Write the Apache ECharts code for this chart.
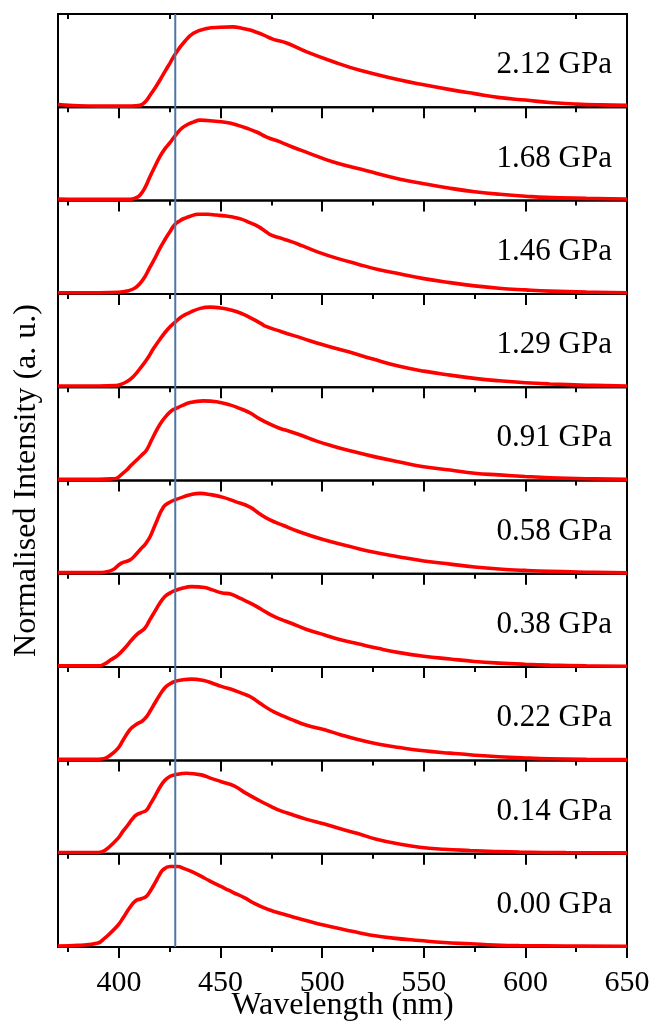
<!DOCTYPE html>
<html>
<head>
<meta charset="utf-8">
<script src="https://cdn.jsdelivr.net/npm/echarts@6/dist/echarts.min.js"></script>
<style>
html,body{margin:0;padding:0;background:#fff;}
#chart{width:654px;height:1021px;}
</style>
</head>
<body>
<div id="chart"></div>
<script>
// ---- data ----
const pressures = ['2.12 GPa','1.68 GPa','1.46 GPa','1.29 GPa','0.91 GPa','0.58 GPa','0.38 GPa','0.22 GPa','0.14 GPa','0.00 GPa'];
const majorTicks = [400,450,500,550,600,650];
const minorTicks = [375,425,475,525,575,625];
const refLine = 427.7;

const p212 = [[370,0.035],[380,0.02],[390,0.015],[400,0.015],[406,0.015],[410.4,0.025],[413,0.07],[415.3,0.15],[418,0.25],[420.2,0.34],[422.5,0.44],[425.1,0.55],[427.9,0.67],[431.7,0.80],[436.6,0.92],[443.2,0.98],[449.7,0.995],[456.3,1.0],[460,0.985],[464.5,0.96],[468,0.93],[471,0.90],[476,0.845],[482.5,0.80],[492.4,0.69],[505.5,0.567],[518.6,0.46],[538.3,0.34],[550,0.28],[563,0.22],[575,0.17],[587.5,0.12],[600,0.09],[612,0.06],[625,0.04],[637,0.03],[650,0.025]];
const p168 = [[370,0.02],[390,0.015],[400,0.015],[405.4,0.015],[408,0.03],[410.4,0.07],[413,0.17],[415.3,0.30],[418,0.44],[420.2,0.55],[422.5,0.64],[425.1,0.72],[427.9,0.815],[430.5,0.89],[433.3,0.94],[436.5,0.975],[439.9,1.0],[446.4,0.99],[453,0.97],[458,0.94],[462.9,0.90],[468,0.85],[472.7,0.79],[479.3,0.73],[485,0.67],[492.4,0.60],[505.5,0.48],[521.9,0.37],[538.3,0.265],[550,0.21],[563,0.153],[575,0.11],[587.5,0.078],[600,0.055],[610,0.04],[630,0.028],[650,0.02]];
const p146 = [[370,0.015],[390,0.015],[400,0.02],[404,0.035],[407.7,0.07],[410,0.12],[412.7,0.21],[415,0.32],[417.6,0.44],[420,0.56],[422.5,0.67],[425,0.77],[427.4,0.86],[430,0.91],[432.3,0.94],[435,0.965],[438.9,0.99],[443.8,0.99],[448,0.98],[452,0.97],[456,0.955],[460.2,0.93],[464,0.89],[468.4,0.84],[472,0.78],[475,0.73],[480,0.69],[484.8,0.65],[490,0.6],[498,0.52],[507,0.445],[517.6,0.37],[528,0.3],[538,0.25],[550,0.19],[563,0.14],[575,0.1],[587,0.07],[600,0.05],[612,0.035],[630,0.022],[650,0.015]];
const p129 = [[370,0.015],[390,0.015],[398,0.02],[400.5,0.03],[404,0.07],[407,0.13],[410,0.22],[413.6,0.34],[417,0.48],[420,0.59],[424,0.72],[427.7,0.81],[431,0.88],[435,0.93],[440,0.98],[445,0.995],[450,0.985],[455,0.96],[460,0.92],[465,0.86],[470,0.79],[472,0.76],[480,0.69],[490,0.61],[500,0.53],[513,0.44],[525,0.35],[538,0.26],[550,0.2],[563,0.15],[575,0.11],[587,0.08],[600,0.055],[612,0.04],[630,0.025],[650,0.015]];
const p091 = [[370,0.015],[390,0.015],[396,0.02],[398.9,0.03],[401,0.07],[403.8,0.13],[406,0.19],[408.7,0.255],[411,0.31],[413.6,0.38],[416,0.5],[418.6,0.63],[421,0.73],[423.5,0.81],[426,0.87],[428.4,0.90],[431,0.93],[435,0.97],[441.5,0.99],[448,0.98],[454.6,0.94],[459,0.9],[464.5,0.84],[469,0.77],[474.3,0.70],[479,0.65],[484.2,0.61],[490,0.56],[497.3,0.49],[505,0.43],[513.7,0.37],[525,0.3],[538,0.23],[550,0.17],[563,0.13],[575,0.09],[587,0.07],[600,0.05],[612,0.035],[630,0.022],[650,0.015]];
const p058 = [[370,0.015],[390,0.015],[393,0.02],[397,0.05],[401,0.13],[405.3,0.17],[408,0.23],[410.4,0.30],[413,0.37],[415.3,0.46],[418,0.62],[421.9,0.83],[425,0.89],[427.6,0.92],[432,0.96],[436,0.99],[439.9,1.0],[445,0.985],[451.3,0.95],[457,0.9],[464.5,0.83],[469,0.75],[474.3,0.67],[481,0.6],[489,0.52],[500,0.43],[513.7,0.34],[525,0.27],[538,0.21],[550,0.16],[563,0.12],[575,0.085],[587,0.06],[600,0.042],[612,0.03],[630,0.02],[650,0.012]];
const p038 = [[370,0.015],[389.7,0.015],[393,0.04],[396,0.09],[399.5,0.15],[403,0.24],[406,0.33],[409,0.41],[412.6,0.48],[415,0.58],[417.6,0.69],[420,0.79],[422.5,0.875],[425,0.92],[427.4,0.95],[431,0.98],[435.6,1.0],[442.2,0.99],[446,0.96],[450.4,0.925],[455.3,0.905],[460,0.85],[465.1,0.79],[470,0.72],[475,0.645],[480,0.59],[484.8,0.545],[492,0.47],[501.2,0.40],[509,0.34],[517.6,0.29],[528,0.23],[538,0.18],[550,0.135],[563,0.1],[575,0.07],[587,0.05],[600,0.035],[612,0.025],[630,0.015],[650,0.01]];
const p022 = [[370,0.015],[389.7,0.015],[393,0.025],[396,0.07],[399.5,0.15],[402,0.25],[405.3,0.38],[407.5,0.43],[409.4,0.46],[411.5,0.49],[413.5,0.54],[415.5,0.62],[417.6,0.71],[420,0.81],[422.5,0.90],[425,0.95],[427.4,0.98],[431,1.0],[435.6,1.01],[442.2,0.99],[446,0.96],[450.4,0.92],[456.9,0.87],[461,0.83],[465.1,0.785],[470,0.7],[475,0.62],[480,0.56],[484.8,0.51],[492,0.44],[501.2,0.38],[509,0.32],[517.6,0.26],[528,0.2],[538,0.16],[550,0.12],[563,0.09],[575,0.065],[587,0.045],[600,0.03],[612,0.02],[630,0.013],[650,0.01]];
const p014 = [[370,0.015],[389.7,0.015],[391.8,0.025],[395,0.08],[399.5,0.19],[402,0.28],[404.5,0.36],[406.5,0.43],[408.5,0.48],[411,0.51],[413.5,0.54],[415.5,0.62],[417.6,0.71],[420,0.82],[422.5,0.91],[425,0.96],[427.4,0.98],[433.2,1.0],[440.5,0.98],[445,0.94],[450.4,0.895],[456.9,0.84],[462,0.76],[468.4,0.67],[475,0.585],[480,0.53],[484.8,0.49],[492,0.43],[501.2,0.37],[509,0.31],[517.6,0.25],[526.7,0.18],[538,0.12],[548,0.08],[560,0.055],[572.8,0.04],[585,0.028],[597,0.02],[620,0.013],[650,0.01]];
const p000 = [[370,0.012],[380,0.02],[389.7,0.05],[393,0.11],[396,0.18],[399.5,0.27],[402,0.36],[404.5,0.46],[406.5,0.53],[408.5,0.58],[411,0.60],[413.5,0.63],[415.5,0.7],[417.6,0.79],[420,0.9],[421.7,0.96],[425,1.0],[429,1.0],[432,0.975],[435.6,0.94],[442.2,0.855],[447,0.79],[452,0.73],[456,0.68],[461.9,0.61],[466,0.55],[473,0.47],[478,0.43],[484.8,0.38],[492,0.33],[501.2,0.27],[510,0.22],[517.6,0.18],[523.5,0.15],[535,0.11],[548,0.08],[560,0.055],[572.8,0.04],[585,0.025],[597,0.017],[620,0.012],[650,0.01]];

const spectra = [p212,p168,p146,p129,p091,p058,p038,p022,p014,p000];

// ---- layout ----
const L = 58, R = 27, TOP = 14, PH = 93.3, N = spectra.length;
const BOTTOM = 1021 - (TOP + N*PH);
const font = 'Liberation Serif';

const grids = [], xAxes = [], yAxes = [], series = [], titles = [];
spectra.forEach((d, i) => {
  grids.push({left: L, right: R, top: TOP + i*PH, height: PH, show: true, borderColor: '#000', borderWidth: 2,
    backgroundColor: 'transparent', containLabel: false, outerBoundsMode: 'none'});
  [majorTicks, minorTicks].forEach((tv, k) => {
    xAxes.push({type: 'value', gridIndex: i, position: 'top', min: 370, max: 650,
      axisLine: {show: false}, splitLine: {show: false}, axisLabel: {show: false},
      axisTick: {show: true, inside: true, length: k === 0 ? 11 : 5, customValues: tv, lineStyle: {color: '#000', width: 2}}});
  });
  yAxes.push({type: 'value', gridIndex: i, min: 0, max: 1.16, show: false});
  series.push({type: 'line', xAxisIndex: 2*i, yAxisIndex: i, data: d, showSymbol: false, smooth: 0.45,
    lineStyle: {color: '#ff0000', width: 3.6}, z: 3, silent: true});
  titles.push({text: pressures[i], right: 42, top: TOP + i*PH + PH/2 - 11, padding: 0,
    textStyle: {fontFamily: font, fontSize: 31, fontWeight: 'normal', color: '#000'}});
});

// overlay grid spanning all panels (shared x axis labels, axis names, reference line)
grids.push({left: L, right: R, top: TOP, bottom: BOTTOM, show: false, containLabel: false, outerBoundsMode: 'none'});
xAxes.push({type: 'value', gridIndex: N, position: 'bottom', min: 370, max: 650,
  name: 'Wavelength (nm)', nameLocation: 'middle', nameGap: 43, nameMoveOverlap: false,
  nameTextStyle: {fontFamily: font, fontSize: 32, color: '#000'},
  axisLine: {show: false}, splitLine: {show: false},
  axisTick: {show: true, inside: false, length: 11, customValues: majorTicks, lineStyle: {color: '#000', width: 2}},
  axisLabel: {show: true, customValues: majorTicks, margin: 21, fontFamily: font, fontSize: 30, color: '#000'}});
xAxes.push({type: 'value', gridIndex: N, position: 'bottom', min: 370, max: 650,
  axisLine: {show: false}, splitLine: {show: false}, axisLabel: {show: false},
  axisTick: {show: true, inside: false, length: 5, customValues: minorTicks, lineStyle: {color: '#000', width: 2}}});
yAxes.push({type: 'value', gridIndex: N, min: 0, max: 1,
  name: 'Normalised Intensity (a. u.)', nameLocation: 'middle', nameRotate: 90, nameGap: 15, nameMoveOverlap: false,
  nameTextStyle: {fontFamily: font, fontSize: 32, color: '#000'},
  axisLine: {show: false}, axisTick: {show: false}, axisLabel: {show: false}, splitLine: {show: false}});
series.push({type: 'line', xAxisIndex: 2*N, yAxisIndex: N, data: [[refLine, 0], [refLine, 1]],
  showSymbol: false, lineStyle: {color: '#4f76a3', width: 2}, z: 10, silent: true});

const chart = echarts.init(document.getElementById('chart'), null, {renderer: 'canvas'});
chart.setOption({
  animation: false,
  backgroundColor: '#fff',
  title: titles,
  grid: grids,
  xAxis: xAxes,
  yAxis: yAxes,
  series: series
});
</script>
</body>
</html>
